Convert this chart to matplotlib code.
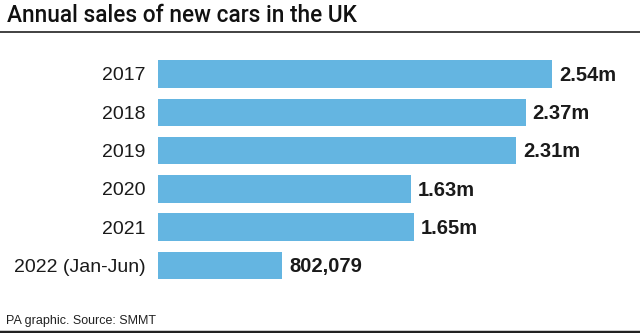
import numpy as np
import matplotlib.pyplot as plt

plt.rcParams['font.family'] = ['Liberation Sans', 'DejaVu Sans']

years = ['2017', '2018', '2019', '2020', '2021', '2022 (Jan-Jun)']
sales = [2540000, 2370000, 2310000, 1630000, 1650000, 802079]
value_labels = ['2.54m', '2.37m', '2.31m', '1.63m', '1.65m', '802,079']

W, H = 640, 333
fig = plt.figure(figsize=(W / 100, H / 100), dpi=100)

px_per_m = 155.1
xmax = 3.0e6
ax = fig.add_axes([158 / W, 1 - 284.65 / H, xmax / 1e6 * px_per_m / W, 229.8 / H])
y = np.arange(len(years))
ax.barh(y, sales, height=0.72, color='#64b5e1')
ax.set_xlim(0, xmax)
ax.set_ylim(len(years) - 0.5, -0.5)
ax.set_yticks(y)
ax.set_yticklabels(years, fontsize=14, color='#1a1a1a')
ax.tick_params(axis='y', length=0, pad=9)
ax.set_xticks([])
for s in ax.spines.values():
    s.set_visible(False)

for yi, v, lab in zip(y, sales, value_labels):
    ax.text(v + 45000, yi + 0.03, lab, va='center', ha='left', fontsize=14.5,
            fontweight='bold', color='#1a1a1a')

fig.text(7 / W, 1 - 15 / H, 'Annual sales of new cars in the UK', fontsize=16.3,
         va='center', ha='left', color='#111111', fontweight='medium',
         family=['Roboto', 'Liberation Sans'])
fig.add_artist(plt.Line2D([0, 1], [1 - 32 / H, 1 - 32 / H], color='#333333', lw=1.3))
fig.text(6 / W, 1 - 321 / H, 'PA graphic. Source: SMMT', fontsize=9,
         va='center', ha='left', color='#222222')
fig.add_artist(plt.Line2D([0, 1], [1 - 331.5 / H, 1 - 331.5 / H], color='#222222', lw=2.5))

fig.savefig('out.png', dpi=100)
